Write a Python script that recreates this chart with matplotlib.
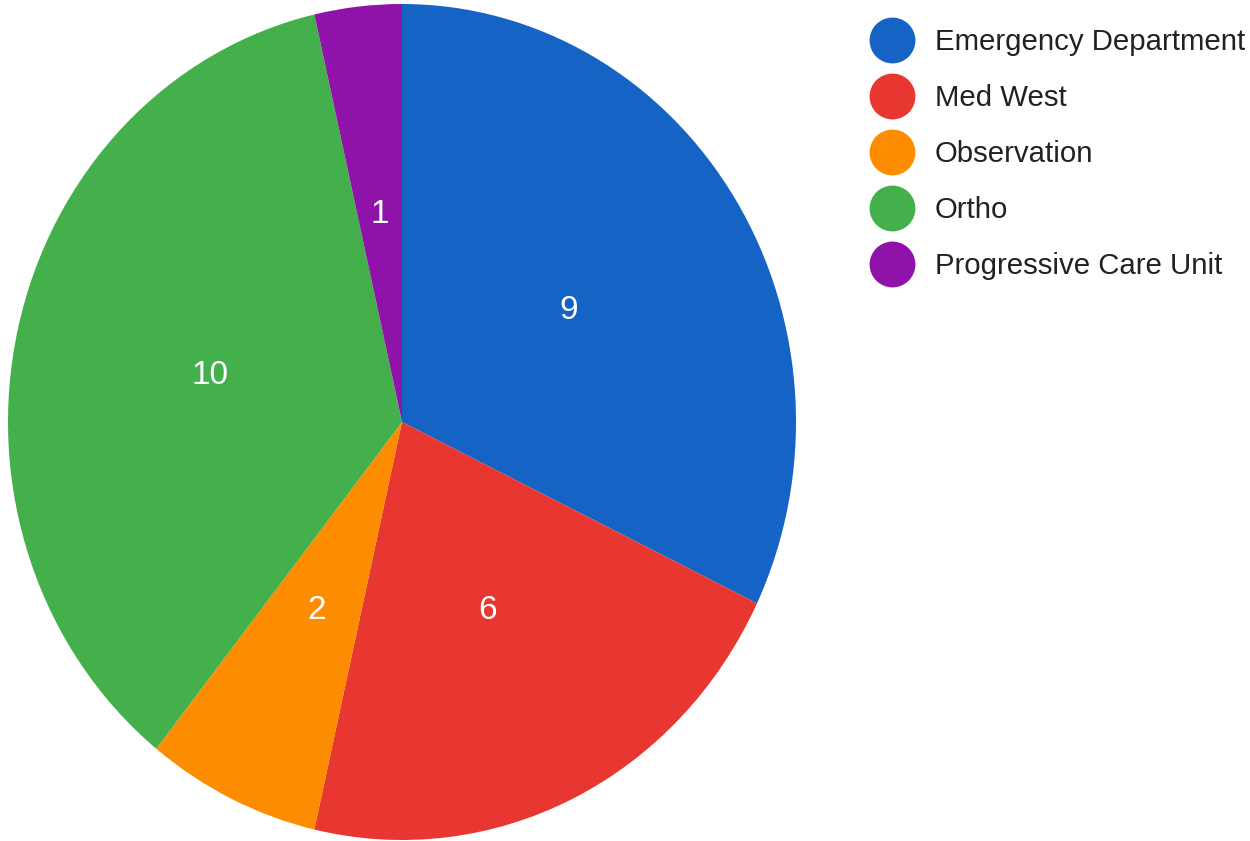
import numpy as np
import matplotlib
matplotlib.use('Agg')
import matplotlib.pyplot as plt
from matplotlib.lines import Line2D

plt.rcParams['font.family'] = ['Liberation Sans', 'DejaVu Sans']

# data
units = ['Emergency Department', 'Med West', 'Observation', 'Ortho', 'Progressive Care Unit']
counts = [9, 6, 2, 10, 1]
colors = ['#1563c4', '#e83630', '#fd8c00', '#43b04b', '#9013a9']

W, H = 1250, 841
fig = plt.figure(figsize=(W/100, H/100), dpi=100)

# pie is slightly stretched vertically in the reference
cx, cy = 402, 422
rx, ry = 394, 418
ax = fig.add_axes([(cx-rx)/W, (H-cy-ry)/H, 2*rx/W, 2*ry/H])

wedges, texts, autotexts = ax.pie(counts, colors=colors, startangle=90, counterclock=False,
                                  radius=1, autopct=lambda p: '%d' % round(p*sum(counts)/100),
                                  pctdistance=0.5, wedgeprops=dict(linewidth=0),
                                  textprops=dict(color='white', fontsize=24))
ax.set_aspect('auto')
ax.set_xlim(-1, 1)
ax.set_ylim(-1, 1)
ax.axis('off')

handles = [Line2D([0], [0], marker='o', linestyle='none', markersize=33,
                  markerfacecolor=c, markeredgewidth=0) for c in colors]
fig.legend(handles, units, loc='upper left', bbox_to_anchor=(870/W, 1-28/H),
           frameon=False, fontsize=21.2, handlelength=1.52, handletextpad=0.68,
           labelspacing=0.95, borderpad=0, borderaxespad=0, labelcolor='#222222')

fig.savefig('out.png', dpi=100)
